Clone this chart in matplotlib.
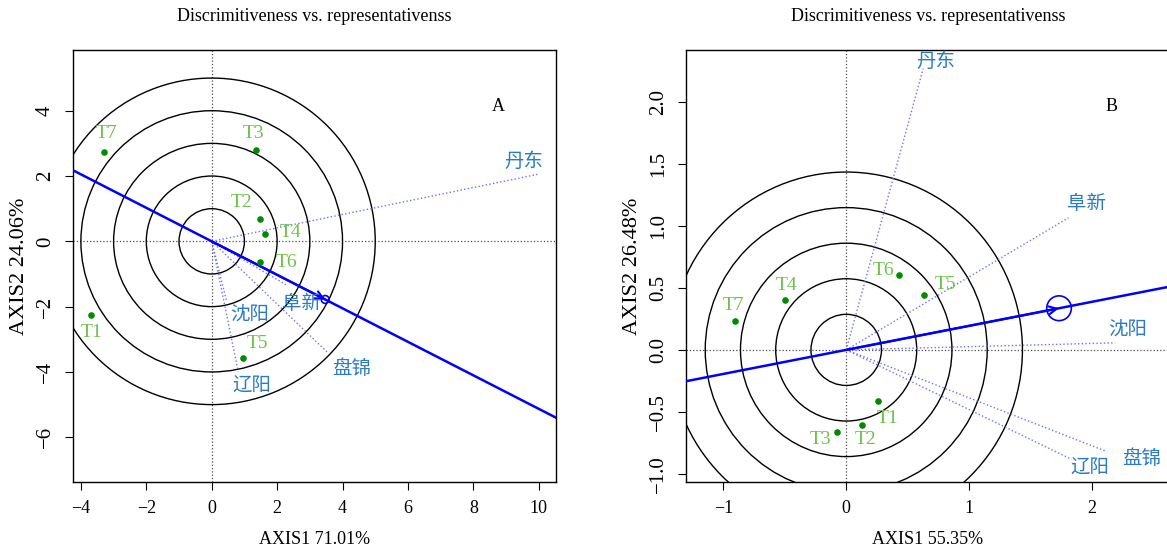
import matplotlib.pyplot as plt
from matplotlib.patches import Circle

plt.rcParams['font.family'] = ['Liberation Serif', 'DejaVu Serif']

# ---- panel A data ----
gen_names = ["T1", "T2", "T3", "T4", "T5", "T6", "T7"]
a_gen_x = [-3.68, 1.48, 1.34, 1.63, 0.96, 1.49, -3.29]
a_gen_y = [-2.27, 0.67, 2.79, 0.23, -3.57, -0.63, 2.75]
a_gen_lab_x = [-3.67, 0.92, 1.29, 2.40, 1.40, 2.29, -3.21]
a_gen_lab_y = [-2.79, 1.18, 3.31, 0.28, -3.14, -0.65, 3.31]

env_names = ["丹东", "阜新", "盘锦", "沈阳", "辽阳"]
a_env_x = [9.96, 2.29, 3.57, 0.46, 0.81]
a_env_y = [2.05, -1.34, -3.43, -1.85, -3.99]
a_env_lab_x = [9.53, 2.75, 4.28, 1.17, 1.22]
a_env_lab_y = [2.45, -1.90, -3.89, -2.24, -4.45]
a_aea = (3.47, -1.78)
a_rings = [1, 2, 3, 4, 5]

# ---- panel B data ----
b_gen_x = [0.256, 0.128, -0.073, -0.497, 0.635, 0.427, -0.904]
b_gen_y = [-0.41, -0.608, -0.66, 0.40, 0.444, 0.606, 0.23]
b_gen_lab_x = [0.34, 0.155, -0.21, -0.49, 0.81, 0.30, -0.92]
b_gen_lab_y = [-0.55, -0.724, -0.724, 0.52, 0.53, 0.644, 0.355]

b_env_x = [0.627, 1.81, 2.12, 2.19, 1.835]
b_env_y = [2.27, 1.066, -0.82, 0.057, -0.883]
b_env_lab_x = [0.73, 1.96, 2.405, 2.29, 1.98]
b_env_lab_y = [2.33, 1.18, -0.877, 0.165, -0.958]
b_aea = (1.733, 0.336)
b_rings = [0.287, 0.574, 0.861, 1.148, 1.435]

env_col = "#2a7bc6"
gen_col = "#6cc24a"
pt_col = "#008a00"


def biplot(ax, gx, gy, glx, gly, ex, ey, elx, ely, aea, rings, aea_r,
           xlim, ylim, xlabel, ylabel, tag, xticks, yticks, yfmt):
    ax.set_xlim(*xlim)
    ax.set_ylim(*ylim)
    ax.axhline(0, color="0.3", ls=":", lw=0.9, zorder=1)
    ax.axvline(0, color="0.3", ls=":", lw=0.9, zorder=1)
    for r in rings:
        ax.add_patch(Circle((0, 0), r, fill=False, ec="black", lw=1.0, zorder=2))
    # environment vectors
    for x, y, lx, ly, n in zip(ex, ey, elx, ely, env_names):
        ax.plot([0, x], [0, y], color="#6f6fff", ls=":", lw=1.0, zorder=2)
        ax.text(lx, ly, n, color=env_col, fontsize=14, ha="center", va="center",
                family=["Noto Sans CJK SC", "DejaVu Sans"], zorder=4)
    # average environment axis
    ax.axline((0, 0), aea, color="blue", lw=1.8, zorder=3)
    ax.annotate("", xy=aea, xytext=(0, 0),
                arrowprops=dict(arrowstyle="->", color="blue", lw=1.5,
                                mutation_scale=14, shrinkA=0, shrinkB=0), zorder=3)
    ax.add_patch(Circle(aea, aea_r, fill=False, ec="blue", lw=1.2, zorder=3))
    # genotypes
    ax.scatter(gx, gy, s=14, color=pt_col, zorder=5)
    for lx, ly, n in zip(glx, gly, gen_names):
        ax.text(lx, ly, n, color=gen_col, fontsize=14, ha="center", va="center", zorder=5)
    ax.text(0.88, 0.87, tag, transform=ax.transAxes, fontsize=13, ha="center", va="center")
    ax.set_title("Discrimitiveness vs. representativenss", fontsize=13, pad=21)
    ax.set_xlabel(xlabel, fontsize=13, labelpad=10)
    ax.set_ylabel(ylabel, fontsize=16, labelpad=5)
    ax.set_xticks(xticks)
    ax.set_yticks(yticks)
    ax.set_xticklabels([str(t).replace("-", "\u2212") for t in xticks], fontsize=13)
    ax.set_yticklabels([yfmt.format(t).replace("-", "\u2212") for t in yticks],
                       rotation=90, va="center", fontsize=15)
    ax.tick_params(length=6, direction="out", pad=7)
    for s in ax.spines.values():
        s.set_linewidth(1.0)


fig = plt.figure(figsize=(11.67, 5.56), dpi=100)
axA = fig.add_axes([0.0626, 0.1331, 0.4139, 0.777])
axB = fig.add_axes([0.5878, 0.1331, 0.4147, 0.777])

biplot(axA, a_gen_x, a_gen_y, a_gen_lab_x, a_gen_lab_y,
       a_env_x, a_env_y, a_env_lab_x, a_env_lab_y, a_aea, a_rings, 0.12,
       (-4.24, 10.53), (-7.37, 5.86), "AXIS1 71.01%", "AXIS2 24.06%", "A",
       [-4, -2, 0, 2, 4, 6, 8, 10], [-6, -4, -2, 0, 2, 4], "{:d}")
biplot(axB, b_gen_x, b_gen_y, b_gen_lab_x, b_gen_lab_y,
       b_env_x, b_env_y, b_env_lab_x, b_env_lab_y, b_aea, b_rings, 0.1,
       (-1.305, 2.636), (-1.066, 2.42), "AXIS1 55.35%", "AXIS2 26.48%", "B",
       [-1, 0, 1, 2], [-1.0, -0.5, 0.0, 0.5, 1.0, 1.5, 2.0], "{:.1f}")
axB.spines["right"].set_visible(False)  # panel B is cut at the picture edge

fig.savefig("out.png", dpi=100)
